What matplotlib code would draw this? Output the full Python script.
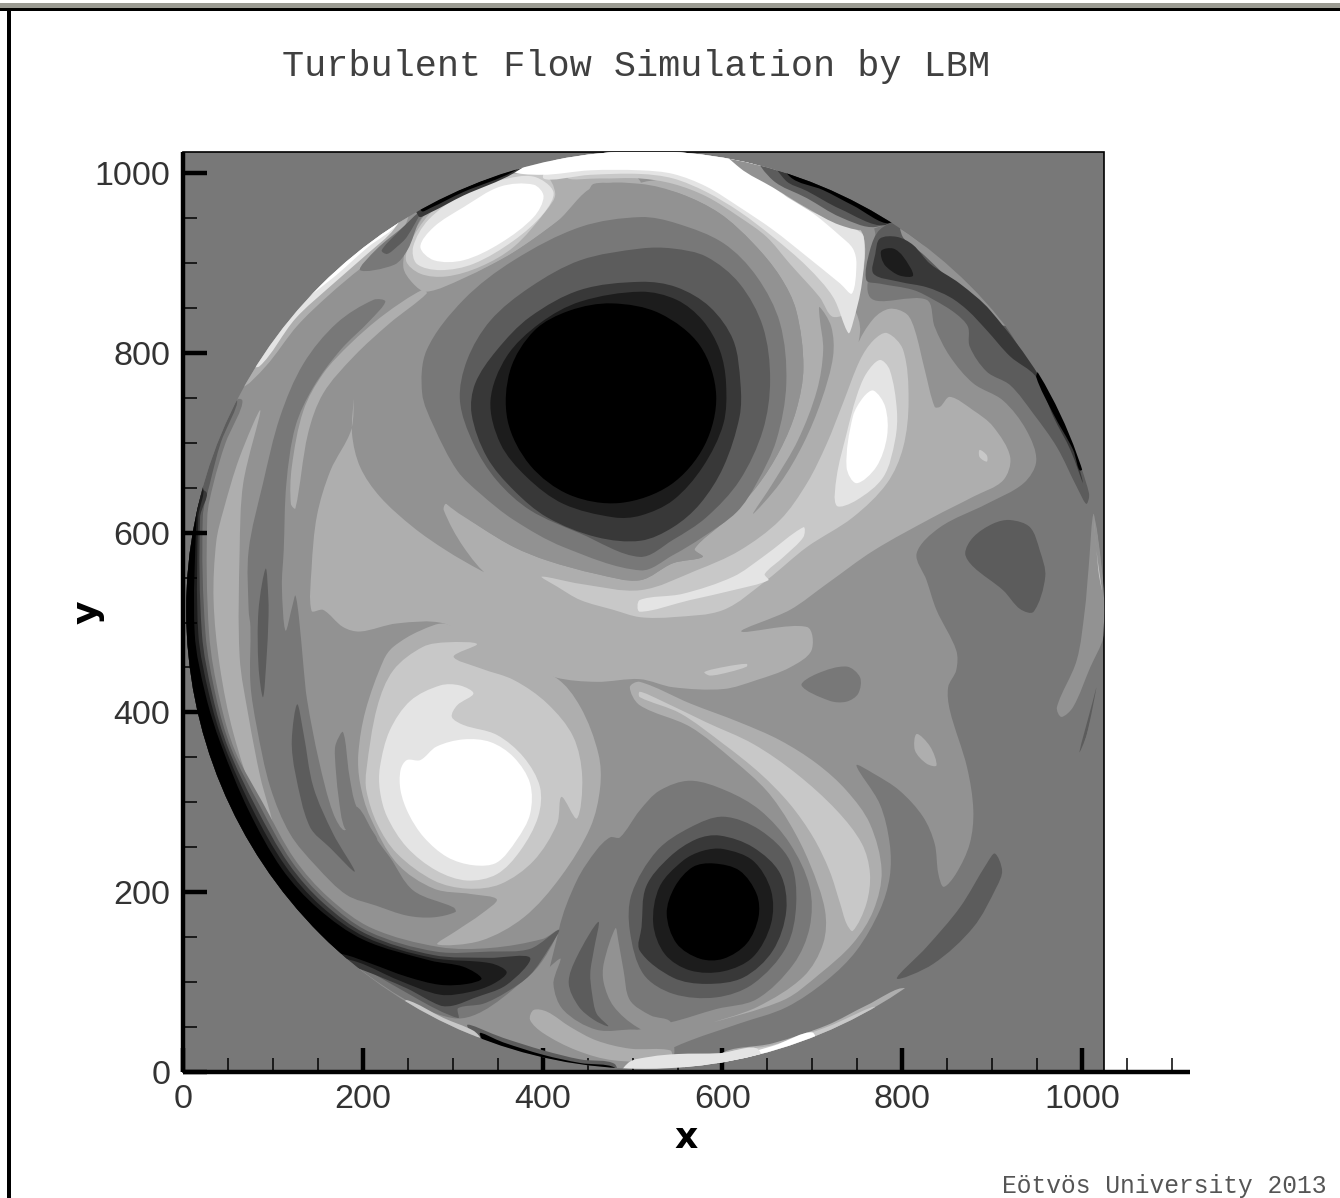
import numpy as np
import matplotlib
matplotlib.use('Agg')
import matplotlib.pyplot as plt
from matplotlib.path import Path
from matplotlib.patches import PathPatch, Circle, Rectangle

# contour outlines, in x/y units of the plot
G0, G28, G56, G92, G120, G146, G174, G200, G228, G255 = 0, 28, 56, 92, 120, 146, 174, 200, 228, 255

x_major = [0, 200, 400, 600, 800, 1000]
y_major = [0, 200, 400, 600, 800, 1000]
x_minor = [50, 100, 150, 250, 300, 350, 450, 500, 550, 650, 700, 750, 850, 900, 950, 1050, 1100]
y_minor = [50, 100, 150, 250, 300, 350, 450, 500, 550, 650, 700, 750, 850, 900, 950]

disk_center = (514, 514)
disk_radius = 510.5

# main field
field_146 = [(-30,500),(-30,1050),(520,1060),(680,1060),(768,940),(764,862),(827,859),(836,829),(853,796),(879,766),(912,747),(938,714),(949,680),(935,655),(894,632),(842,606),(816,577),(827,547),(838,514),(860,469),(860,447),(851,428),(853,402),(872,339),(879,291),(875,254),(860,221),(846,206),(840,221),(836,254),(823,284),(797,313),(768,332),(749,341),(775,298),(786,254),(786,217),(775,180),(749,135),(716,102),(671,72),(619,54),(564,35),(400,-30),(-30,-30)]
center_174 = [(190,749),(188,710),(197,673),(219,640),(256,606),(293,580),(331,558),(383,532),(342,550),(312,584),(290,625),(293,632),(331,606),(368,584),(405,569),(460,554),(508,547),(545,566),(578,573),(569,582),(604,614),(638,651),(664,692),(682,736),(690,784),(682,847),(664,885),(634,922),(597,955),(553,977),(508,988),(545,992),(597,973),(634,949),(675,918),(712,884),(745,851),(753,823),(735,747),(749,806),(768,838),(786,849),(805,843),(814,825),(825,781),(836,740),(842,740),(853,751),(879,736),(901,718),(920,684),(912,658),(879,640),(834,617),(768,580),(716,543),(675,514),(621,490),(694,495),(699,469),(675,450),(638,436),(601,426),(545,428),(508,437),(460,434),(414,439),(368,458),(327,476),(290,499),(238,499),(197,490),(178,495),(156,514),(143,513),(143,560),(149,619),(164,669),(187,714)]
upper_174 = [(271,868),(312,883),(368,912),(416,946),(447,970),(457,988),(509,988),(479,1011),(386,1007),(293,977),(253,929),(245,896),(256,877)]

# left bands
left_120 = [(73,514),(73,580),(89,655),(108,729),(134,788),(171,833),(212,859),(225,857),(208,836),(175,803),(145,762),(125,718),(115,655),(112,580),(110,540),(114,491),(122,520),(125,530),(129,505),(134,451),(138,414),(151,347),(167,288),(180,269),(193,295),(216,258),(230,239),(256,202),(301,183),(303,178),(278,172),(249,174),(215,185),(182,197),(149,228),(119,265),(97,317),(82,384),(75,432),(75,495)]
left_stripe_92a = [(92,560),(95,525),(95,503),(93,462),(89,417),(84,451),(84,514)]
left_stripe_92b = [(127,409),(134,377),(145,317),(167,265),(191,223),(164,249),(141,273),(125,332),(121,369)]
left_stripe_120 = [(178,378),(185,330),(193,295),(216,258),(190,270),(180,271),(173,306),(169,351),(170,365)]
left_spike_174 = [(86,736),(67,655),(63,580),(63,462),(73,395),(86,328),(100,273),(82,299),(56,377),(41,451),(34,525),(37,590),(45,625),(63,684)]
stripe_174 = [(266,870),(271,866),(230,833),(190,796),(156,755),(139,710),(125,627),(120,632),(121,673),(134,736),(156,777),(186,810),(223,842)]

# rim crescent on the left running into the lump at the bottom
rim_120 = [(66,747),(47,699),(34,655),(27,617),(29,488),(41,414),(58,357),(89,299),(124,237),(162,194),(210,160),(285,139),(342,138),(400,148),(418,158),(386,108),(300,60),(150,150),(-20,300),(-30,500),(0,645),(40,740)]
rim_92 = [(60,747),(42,700),(30,655),(22,617),(25,488),(37,416),(54,359),(85,297),(121,234),(159,191),(207,156),(281,134),(342,134),(386,137),(418,158),(408,139),(386,108),(360,89),(334,76),(306,71),(306,60),(256,84),(150,150),(-20,300),(-30,500),(0,645),(30,730)]
rim_56 = [(26,645),(19,617),(21,488),(33,418),(50,361),(81,295),(118,231),(156,188),(205,153),(279,130),(340,127),(386,127),(360,97),(323,82),(301,74),(286,74),(249,93),(201,113),(100,150),(-20,300),(-30,500),(0,645)]
rim_28 = [(22,650),(17,617),(17,488),(29,420),(46,363),(77,293),(114,229),(153,185),(203,150),(277,127),(342,121),(360,111),(345,98),(319,89),(286,86),(240,102),(195,122),(100,150),(-20,300),(-30,500),(0,650)]
rim_0 = [(19,655),(15,617),(13,488),(25,420),(42,365),(73,291),(110,226),(150,182),(201,147),(275,124),(312,117),(332,104),(316,98),(286,97),(249,106),(208,121),(182,130),(100,150),(-20,300),(-30,500),(-10,655)]

# lower vortex
lower_120 = [(564,324),(604,313),(642,291),(675,254),(697,206),(697,161),(679,120),(638,81),(593,70),(541,55),(460,41),(405,58),(418,158),(438,213),(460,247),(475,261),(486,261),(508,291),(530,313)]
wedge_146 = [(419,126),(356,65),(334,61),(319,50),(356,32),(423,13),(542,13),(542,39),(505,47),(460,47),(423,69),(412,98)]
patch_174 = [(390,69),(405,67),(431,50),(460,35),(497,26),(542,24),(542,13),(479,13),(438,24),(401,43),(386,58)]
stripe_92_low = [(462,167),(438,128),(429,99),(440,73),(457,58),(473,51),(460,65),(455,87),(453,110),(457,136)]
band_146_low = [(481,160),(468,121),(468,99),(479,73),(505,50),(542,35),(542,56),(520,63),(497,80),(490,113),(484,147)]
tail_174 = [(497,428),(508,434),(564,410),(619,389),(664,369),(705,343),(738,313),(764,276),(777,224),(768,180),(745,143),(708,109),(668,80),(588,55),(638,72),(690,106),(712,143),(714,180),(697,232),(675,276),(649,313),(612,347),(564,384),(508,408)]
tail_200 = [(508,423),(530,414),(582,389),(634,365),(682,332),(727,291),(755,254),(764,221),(760,187),(745,157),(738,165),(731,187),(719,224),(701,261),(675,298),(642,332),(601,365),(553,399),(508,417)]
lv_92 = [(601,284),(642,269),(675,235),(682,187),(671,139),(634,98),(593,83),(545,87),(512,109),(497,157),(499,198),(527,246),(564,272)]
lv_56 = [(597,263),(634,250),(664,221),(671,180),(656,135),(623,105),(582,98),(545,105),(508,135),(510,161),(515,206),(541,239),(571,259)]
lv_28 = [(601,248),(634,235),(654,202),(654,165),(634,128),(601,112),(564,113),(536,131),(523,165),(530,206),(556,235),(578,246)]
lv_0 = [(590,232),(619,224),(638,198),(640,172),(627,143),(601,126),(575,126),(549,143),(538,176),(547,206),(567,228)]

# left vortex
uv_left_174 = [(195,354),(203,402),(223,458),(234,473),(264,491),(294,498),(414,439),(442,406),(462,354),(464,317),(453,272),(420,217),(379,172),(331,146),(283,142),(304,157),(332,176),(349,192),(320,198),(279,204),(238,232),(208,284),(197,321)]
uv_left_200 = [(204,336),(216,406),(234,447),(267,473),(294,478),(327,476),(301,462),(331,449),(368,436),(405,410),(434,373),(444,328),(438,282),(421,306),(416,276),(390,235),(353,209),(316,204),(279,213),(238,243),(216,276),(204,313)]
uv_left_228 = [(219,339),(230,380),(253,413),(286,430),(308,430),(323,421),(305,408),(299,395),(312,386),(349,375),(379,350),(397,317),(395,284),(375,246),(349,220),(316,213),(282,224),(249,250),(227,284),(219,313)]
uv_left_white = [(242,336),(249,347),(264,347),(282,362),(312,370),(342,367),(368,350),(386,321),(386,287),(371,258),(349,233),(323,230),(294,239),(268,261),(251,287),(242,313)]

# upper vortex rings
v_146 = [(508,988),(553,977),(597,955),(634,922),(664,885),(682,847),(690,784),(682,736),(664,692),(638,651),(604,614),(569,582),(578,573),(545,566),(508,547),(460,554),(405,569),(368,584),(331,606),(293,632),(256,673),(219,729),(256,803),(312,877),(368,912),(416,946),(457,985)]
v_120 = [(509,951),(442,940),(368,903),(312,859),(271,803),(266,755),(279,718),(305,669),(331,643),(368,614),(423,584),(509,558),(545,575),(578,595),(616,623),(638,655),(660,703),(671,766),(664,833),(638,885),(601,922),(549,944)]
v_92 = [(509,916),(442,903),(386,873),(342,836),(316,792),(308,747),(323,699),(349,658),(386,625),(442,599),(508,573),(545,592),(582,617),(619,658),(645,714),(653,770),(645,829),(619,877),(582,907),(545,916)]
v_56 = [(509,879),(442,870),(386,840),(349,803),(325,766),(321,732),(338,684),(368,647),(405,617),(460,595),(509,591),(545,606),(575,632),(601,673),(619,729),(620,766),(612,814),(586,851),(549,873)]
v_28 = [(509,868),(442,857),(397,833),(360,796),(342,747),(353,699),(382,662),(423,632),(479,617),(509,619),(545,636),(578,673),(601,721),(604,766),(597,803),(578,836),(549,859)]
v_0 = [(477,855),(530,844),(575,808),(593,753),(580,697),(542,653),(486,633),(430,642),(386,675),(361,725),(364,781),(391,825),(430,847)]
stripe_146 = [(708,851),(721,829),(723,796),(710,747),(690,699),(664,655),(634,621),(656,655),(684,703),(705,758),(712,803),(708,840)]

# light blobs
tongue_200 = [(783,822),(801,803),(807,747),(801,695),(783,655),(745,617),(694,584),(649,547),(601,514),(545,506),(508,506),(479,514),(442,525),(416,540),(399,551),(442,543),(509,536),(571,558),(619,580),(664,614),(694,655),(716,699),(734,744),(753,792),(768,814)]
blob_228 = [(775,792),(786,781),(794,736),(792,703),(779,662),(749,636),(727,630),(727,662),(738,710),(749,751),(760,777)]
blob_white = [(768,758),(781,740),(783,707),(771,673),(749,655),(738,673),(745,729),(757,751)]
sliver_228 = [(508,525),(556,532),(612,551),(645,573),(690,606),(690,595),(668,573),(647,554),(651,547),(612,536),(564,525),(508,512)]
spot_200 = [(886,692),(894,686),(894,679),(886,684)]
sliver_200 = [(580,445),(604,451),(627,454),(627,451),(608,445),(586,441)]
spot_174 = [(816,376),(831,362),(838,341),(827,343),(814,358)]
patch_92_right = [(920,614),(942,606),(953,580),(959,551),(946,512),(931,515),(912,536),(879,562),(870,577),(879,595),(901,610)]
patch_120_mid = [(688,430),(705,443),(738,451),(753,439),(751,421),(738,412),(719,413)]
crescent_92 = [(903,243),(911,224),(905,206),(879,161),(834,120),(794,104),(827,139),(864,183),(894,232)]
right_146 = [(1013,621),(1007,558),(1003,514),(994,458),(972,406),(977,395),(990,406),(1009,450),(1024,484),(1026,514),(1022,560)]
right_200 = [(1013,617),(1016,580),(1022,536),(1018,558)]
right_line_92 = [(997,356),(1012,413),(1016,428),(1005,375)]

# top left blob
ul_200 = [(248,903),(256,929),(282,962),(331,992),(401,998),(414,977),(403,957),(368,918),(331,896),(293,885),(264,888)]
ul_228 = [(256,918),(273,948),(312,977),(353,992),(390,996),(412,979),(401,955),(368,925),(323,899),(286,892),(260,899)]
ul_white = [(264,918),(279,940),(312,962),(353,985),(390,987),(401,974),(390,951),(353,922),(312,903),(279,903)]

# top band
top_200 = [(427,996),(464,994),(508,994),(545,988),(582,974),(619,951),(649,929),(675,899),(708,862),(723,840),(745,851),(757,929),(716,970),(620,1040),(470,1040)]
top_228 = [(401,994),(453,998),(508,999),(545,994),(582,979),(619,957),(656,929),(694,896),(723,862),(740,822),(745,833),(755,877),(757,929),(745,939),(716,950),(675,970),(620,1030),(500,1040),(420,1020)]
top_white = [(368,1003),(399,998),(453,1003),(509,1003),(545,999),(582,985),(619,962),(656,937),(694,907),(731,877),(744,866),(749,899),(745,916),(731,930),(701,955),(656,985),(619,1030),(582,1050),(450,1050)]
top_rim_146 = [(600,1030),(619,1006),(656,984),(694,961),(731,942),(764,937),(800,960),(700,1050)]
top_rim_92 = [(640,1020),(656,992),(694,972),(731,951),(770,940),(800,960),(700,1050)]
top_rim_56 = [(656,1020),(670,992),(694,980),(731,960),(780,942),(800,970),(700,1050)]
top_rim_0 = [(675,996),(712,981),(745,964),(786,944),(800,970),(650,1040)]

# right rim
rb_92 = [(764,914),(760,881),(775,877),(812,870),(835,859),(859,844),(873,829),(875,807),(894,779),(920,764),(946,732),(972,695),(994,651),(1005,632),(1007,655),(916,828),(842,900),(797,945),(775,937)]
rb_56 = [(770,910),(768,888),(797,879),(827,873),(853,862),(873,847),(894,825),(920,796),(949,773),(968,729),(987,692),(1001,655),(987,703),(953,773),(898,847),(864,877),(831,899),(812,920),(794,929),(775,927)]
rb_28 = [(777,914),(790,916),(801,907),(812,886),(797,886),(782,896),(777,905)]
rb_0 = [(949,773),(968,732),(990,692),(998,669),(1010,690),(972,745),(953,780)]
rb_light = [(800,930),(825,908),(865,868),(890,835),(930,835),(870,915),(800,960)]

# top left streak
streak_174 = [(65,762),(92,785),(127,830),(162,864),(199,895),(235,920),(250,960),(190,935),(130,880),(60,790)]
streak_228 = [(85,785),(125,838),(165,875),(205,910),(235,938),(250,970),(180,925),(110,850),(70,790)]
streak_white = [(120,850),(165,882),(205,917),(240,945),(250,980),(170,920),(105,850)]
lens_120 = [(197,892),(235,898),(250,915),(262,945),(272,961),(245,940),(215,915)]
lens_92 = [(221,914),(238,933),(264,957),(249,929),(238,918),(227,910)]
streak_dark_56 = [(262,952),(275,956),(312,975),(368,1000),(420,1040),(250,1000)]
streak_dark_0 = [(265,958),(275,961),(312,979),(368,1002),(420,1040),(250,1000)]

# bottom rim
bottom_174 = [(803,93),(760,74),(716,52),(656,32),(597,19),(597,-20),(716,20),(803,60)]
bottom_200 = [(770,72),(716,50),(656,30),(597,17),(597,-20),(716,20)]
bottom_white = [(700,44),(656,29),(597,14),(560,10),(560,-20),(700,20)]
bottom_228 = [(495,10),(520,17),(550,20),(597,21),(640,25),(640,-20),(479,-20)]
low_rim_92 = [(316,52),(356,38),(401,24),(442,14),(480,9),(480,-10),(356,10)]
low_rim_0 = [(330,43),(356,33),(401,19),(442,10),(480,5),(480,-10),(356,10)]
low_sliver = [(249,80),(290,60),(323,46),(330,38),(290,50),(245,72)]

layers = [
    (field_146, G146), (center_174, G174), (upper_174, G174),
    (left_120, G120), (left_stripe_92a, G92), (left_stripe_92b, G92), (left_stripe_120, G120),
    (left_spike_174, G174), (stripe_174, G174),
    (lower_120, G120), (rim_120, G120), (rim_92, G92), (rim_56, G56), (rim_28, G28), (rim_0, G0),
    (wedge_146, G146), (patch_174, G174), (stripe_92_low, G92), (band_146_low, G146),
    (tail_174, G174), (tail_200, G200),
    (lv_92, G92), (lv_56, G56), (lv_28, G28), (lv_0, G0),
    (uv_left_174, G174), (uv_left_200, G200), (uv_left_228, G228), (uv_left_white, G255),
    (tongue_200, G200), (blob_228, G228), (blob_white, G255), (sliver_228, G228),
    (stripe_146, G146),
    (v_146, G146), (v_120, G120), (v_92, G92), (v_56, G56), (v_28, G28), (v_0, G0),
    (spot_200, G200), (sliver_200, G200), (spot_174, G174),
    (patch_92_right, G92), (patch_120_mid, G120), (crescent_92, G92),
    (right_146, G146), (right_200, G200), (right_line_92, G92),
    (ul_200, G200), (ul_228, G228), (ul_white, G255),
    (top_200, G200), (top_228, G228), (top_white, G255),
    (top_rim_146, G146), (top_rim_92, G92), (top_rim_56, G56), (top_rim_0, G0),
    (rb_92, G92), (rb_light, G146), (rb_56, G56), (rb_28, G28), (rb_0, G0),
    (streak_174, G174), (streak_228, G228), (streak_white, G255),
    (lens_120, G120), (lens_92, G92), (streak_dark_56, G56), (streak_dark_0, G0),
    (bottom_174, G174), (bottom_200, G200), (bottom_white, G255), (bottom_228, G228),
    (low_rim_92, G92), (low_rim_0, G0), (low_sliver, G200),
]


def smooth_outline(pts):
    # closed bezier through the points; handles shrink at sharp tips
    p = np.array(pts, dtype=float)
    chord = np.roll(p, -1, axis=0) - np.roll(p, 1, axis=0)
    nxt = np.linalg.norm(np.roll(p, -1, axis=0) - p, axis=1)
    prv = np.linalg.norm(p - np.roll(p, 1, axis=0), axis=1)
    c_len = np.linalg.norm(chord, axis=1) + 1e-9
    d = chord / c_len[:, None]
    flat = np.clip(c_len / (nxt + prv + 1e-9), 0, 1)[:, None]
    verts, codes = [p[0]], [Path.MOVETO]
    for i in range(len(p)):
        j = (i + 1) % len(p)
        h = nxt[i] / 3
        verts += [p[i] + d[i] * h * flat[i], p[j] - d[j] * h * flat[j], p[j]]
        codes += [Path.CURVE4] * 3
    return Path(verts, codes)


W, H = 1340, 1198
fig = plt.figure(figsize=(W / 100, H / 100), dpi=100, facecolor='white')
ax = fig.add_axes([183 / W, (H - 1072) / H, (1190 - 183) / W, (1072 - 152) / H])
ax.set_xlim(0, 1120)
ax.set_ylim(0, 1023.4)
ax.patch.set_alpha(0)

ax.add_patch(Rectangle((0, 0), 1024, 1023.4, fc=str(G120 / 255), ec='black', lw=1.2, zorder=0.5, clip_on=False))
disk = Circle(disk_center, disk_radius, fc='none', ec='none', transform=ax.transData)
ax.add_patch(disk)
for z, (outline, gray) in enumerate(layers):
    patch = PathPatch(smooth_outline(outline), fc=str(gray / 255), ec='none', lw=0, zorder=1 + z * 0.01)
    ax.add_patch(patch)
    patch.set_clip_path(disk)

for side in ['top', 'right']:
    ax.spines[side].set_visible(False)
for side in ['left', 'bottom']:
    ax.spines[side].set_linewidth(3.2)
    ax.spines[side].set_zorder(5)
    ax.spines[side].set_capstyle('butt')

ax.set_xticks(x_major)
ax.set_yticks(y_major)
ax.set_xticks(x_minor, minor=True)
ax.set_yticks(y_minor, minor=True)
ax.tick_params(which='major', direction='in', length=17, width=3.2, pad=9, labelsize=24.5, zorder=6)
ax.tick_params(which='minor', direction='in', length=10, width=1.1, zorder=6)
for lab in ax.get_xticklabels() + ax.get_yticklabels():
    lab.set_fontfamily('Liberation Sans')
    lab.set_color('#333333')

fig.text(636 / W, 1 - 67 / H, 'Turbulent Flow Simulation by LBM', family='Liberation Mono', fontsize=26.6,
         color='#404040', ha='center', va='center')
fig.text(686 / W, 1 - 1138 / H, 'x', family='DejaVu Sans', fontweight='bold', fontsize=26, ha='center', va='center')
fig.text(88 / W, 1 - 612 / H, 'y', family='DejaVu Sans', fontweight='bold', fontsize=26, rotation=90, ha='center', va='center')
fig.text(1327 / W, 1 - 1186 / H, 'Eötvös University 2013', family='Liberation Mono', fontsize=17.7,
         color='#555555', ha='right', va='center')

# window frame
fig.add_artist(Rectangle((0, 1 - 8 / H), 1, 5 / H, fc='#9a9a92', ec='none', transform=fig.transFigure))
fig.add_artist(Rectangle((0, 1 - 11 / H), 1, 3 / H, fc='black', ec='none', transform=fig.transFigure))
fig.add_artist(Rectangle((7 / W, 0), 4 / W, 1 - 8 / H, fc='black', ec='none', transform=fig.transFigure))

fig.savefig('out.png', dpi=100)
